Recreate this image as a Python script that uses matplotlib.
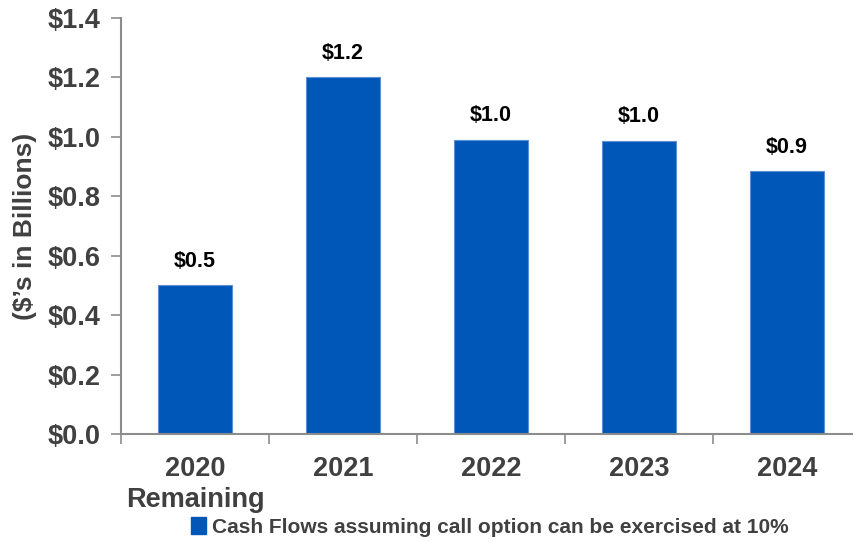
import matplotlib
matplotlib.use("Agg")
import matplotlib.pyplot as plt
from matplotlib.patches import Patch

categories = ["2020\nRemaining", "2021", "2022", "2023", "2024"]
values = [0.50, 1.20, 0.99, 0.987, 0.885]
labels = ["$0.5", "$1.2", "$1.0", "$1.0", "$0.9"]
yticks = [0.0, 0.2, 0.4, 0.6, 0.8, 1.0, 1.2, 1.4]
legend_label = "Cash Flows assuming call option can be exercised at 10%"

plt.rcParams['font.family'] = ['Liberation Sans', 'DejaVu Sans']
bar_color = "#0057B7"
gray = "#404040"
spine_gray = "#8C8C8C"

fig = plt.figure(figsize=(8.54, 5.41), dpi=100)
ax = fig.add_axes([121/854, (541-434)/541, (854-121)/854, (434-18)/541])

x = list(range(len(categories)))
ax.bar(x, values, width=0.5, color=bar_color, edgecolor="#5B8FD6", linewidth=0.8)
for xi, v, lab in zip(x, values, labels):
    ax.text(xi, v + 0.045, lab, ha="center", va="bottom", fontsize=15.5,
            fontweight="bold", color="black")

ax.set_xlim(-0.5, 4.453)
ax.set_ylim(0, 1.4)
ax.set_yticks(yticks)
ax.set_yticklabels([f"${t:.1f}" for t in yticks], fontsize=19.5, fontweight="bold", color=gray)

ax.set_xticks([i - 0.5 for i in range(len(categories))])
ax.set_xticklabels([])
ax.set_xticks(x, minor=True)
ax.set_xticklabels(categories, minor=True, fontsize=19.5, fontweight="bold", color=gray,
                   linespacing=1.25)
ax.tick_params(axis="x", which="minor", length=0, pad=16)
ax.tick_params(axis="x", which="major", length=7, width=1.2, color=spine_gray, direction="out")
ax.tick_params(axis="y", length=7, width=1.2, color=spine_gray, direction="out", pad=8)

for s in ["top", "right"]:
    ax.spines[s].set_visible(False)
for s in ["left", "bottom"]:
    ax.spines[s].set_color(spine_gray)
    ax.spines[s].set_linewidth(1.5)

ax.set_ylabel("($’s in Billions)", fontsize=19, fontweight="bold", color=gray)
ax.yaxis.set_label_coords((37 - 121) / (854 - 121), 0.5)

handle = Patch(facecolor=bar_color, edgecolor=bar_color)
fig.legend([handle], [legend_label], loc="center", bbox_to_anchor=(490/854, 1-527/541),
           frameon=False, handlelength=0.7, handleheight=0.9,
           handletextpad=0.3, prop={"weight": "bold", "size": 15},
           labelcolor=gray)

fig.savefig("out.png", dpi=100)
